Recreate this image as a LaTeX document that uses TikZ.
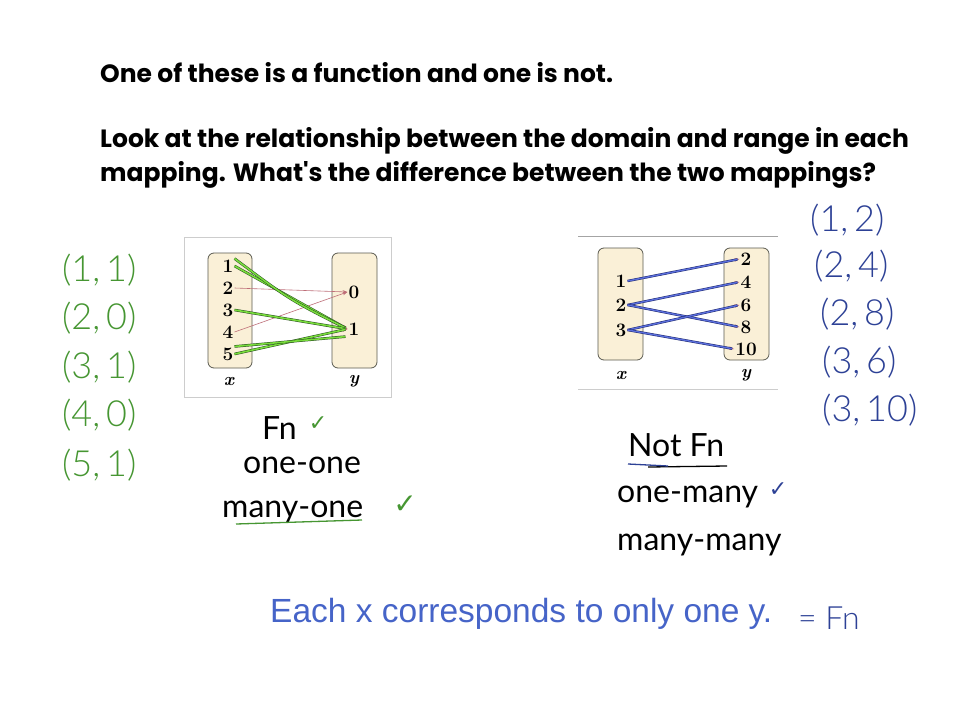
\documentclass[tikz,border=0pt]{standalone}
\usepackage{fontspec}
\usetikzlibrary{arrows.meta}
\newfontfamily\hand{Poppins}
\newfontfamily\handr{Lato}
\newfontfamily\handl{Lato Light}
\newfontfamily\arial{Liberation Sans}
\newfontfamily\djv{DejaVu Sans}
\definecolor{hgreen}{RGB}{70,150,50}
\definecolor{hblue}{RGB}{45,65,150}
\definecolor{tblue}{RGB}{70,100,200}
\definecolor{boxfill}{RGB}{250,240,215}
\definecolor{boxdraw}{RGB}{90,90,80}
\definecolor{framec}{RGB}{205,205,205}
\definecolor{arr}{RGB}{190,110,120}
\definecolor{glite}{RGB}{120,220,60}
\definecolor{gdark}{RGB}{40,80,30}
\definecolor{blite}{RGB}{90,110,220}
\definecolor{bdark}{RGB}{30,40,110}
\begin{document}
\begin{tikzpicture}[x=1pt,y=-1pt,
  title/.style={anchor=base west, inner sep=0pt, font=\hand\bfseries\fontsize{25}{28}\selectfont},
  setbox/.style={draw=boxdraw, fill=boxfill, rounded corners=6pt, line width=0.8pt},
  num/.style={font=\bfseries\fontsize{19}{20}\selectfont, inner sep=1pt},
  axl/.style={font=\bfseries\itshape\fontsize{18}{19}\selectfont, inner sep=1pt},
  map/.style={arr, line width=0.6pt, -{Stealth[length=5pt,width=3.5pt]}},
  ghl/.style={draw=gdark, double=glite, double distance=1.6pt, line width=0.5pt, shorten >=2pt},
  bhl/.style={draw=bdark, double=blite, double distance=1.4pt, line width=0.5pt, shorten >=2pt},
  gpair/.style={text=hgreen, anchor=west, inner sep=0pt, font=\handl\fontsize{36}{38}\selectfont},
  bpair/.style={text=hblue, anchor=west, inner sep=0pt, font=\handl\fontsize{36}{38}\selectfont},
  hw/.style={anchor=west, inner sep=0pt, font=\handr\fontsize{32}{34}\selectfont},
  chk/.style={inner sep=0pt, font=\djv\fontsize{22}{24}\selectfont}
]
\useasboundingbox (0,0) rectangle (960,720);
\fill[white] (0,0) rectangle (960,720);

% title text
\node[title] (t1) at (100,82) {One of these is a function and one is not.};
\node[title] (t2) at (100,147) {Look at the relationship between the domain and range in each};
\node[title] (t3) at (100,181) {mapping. What's the difference between the two mappings?};

% ---------- left mapping ----------
\draw[framec, line width=1pt] (184,237) rectangle (391,397);
\draw[setbox] (208,253) rectangle (252,368);
\draw[setbox] (332,253) rectangle (377,368);
\node[num] (a1) at (228,266) {1};
\node[num] (a2) at (228,288) {2};
\node[num] (a3) at (228,310) {3};
\node[num] (a4) at (228,332) {4};
\node[num] (a5) at (228,354) {5};
\node[num] (b0) at (354,292) {0};
\node[num] (b1) at (354,329) {1};
\node[axl] (ax) at (229,381) {x};
\node[axl] (ay) at (354,381) {y};
\draw[map] (a2.east) -- (b0.west);
\draw[map] (a4.east) -- (b0.west);
\draw[map] (a1.east) -- (b1.west);
\draw[map] (a3.east) -- (b1.west);
\draw[map] (a5.east) -- (b1.west);
\draw[ghl] (a1.east) -- (b1.west);
\draw[ghl] (a1.north east) .. controls (290,300) .. (b1.west);
\draw[ghl] (a3.east) -- (b1.west);
\draw[ghl] (a5.east) -- (b1.west);
\draw[ghl] (a5.north east) -- (b1.south west);

% ---------- right mapping ----------
\draw[framec!80!black, line width=1pt] (578,236) -- (778,236);
\draw[framec, line width=1pt] (578,389) -- (778,389);
\draw[setbox] (598,248) rectangle (643,360);
\draw[setbox] (724,248) rectangle (769,360);
\node[num] (c1) at (621,281) {1};
\node[num] (c2) at (621,305) {2};
\node[num] (c3) at (621,330) {3};
\node[num] (d2) at (746,259) {2};
\node[num] (d4) at (746,282) {4};
\node[num] (d6) at (746,305) {6};
\node[num] (d8) at (746,327) {8};
\node[num] (d10) at (746,349) {10};
\node[axl] (cx) at (621,375) {x};
\node[axl] (cy) at (746,375) {y};
\draw[map] (c1.east) -- (d2.west);
\draw[map] (c2.east) -- (d4.west);
\draw[map] (c2.east) -- (d8.west);
\draw[map] (c3.east) -- (d6.west);
\draw[map] (c3.east) -- (d10.west);
\draw[bhl] (c1.east) -- (d2.west);
\draw[bhl] (c2.east) -- (d4.west);
\draw[bhl] (c2.east) -- (d8.west);
\draw[bhl] (c3.east) -- (d6.west);
\draw[bhl] (c3.east) -- (d10.west);

% ---------- green ordered pairs ----------
\node[gpair] (g1) at (62,270) {(1,\,1)};
\node[gpair] (g2) at (62,318) {(2,\,0)};
\node[gpair] (g3) at (62,367) {(3,\,1)};
\node[gpair] (g4) at (62,415) {(4,\,0)};
\node[gpair] (g5) at (62,465) {(5,\,1)};

% ---------- blue ordered pairs ----------
\node[bpair] (p1) at (810,220) {(1,\,2)};
\node[bpair] (p2) at (814,266) {(2,\,4)};
\node[bpair] (p3) at (820,314) {(2,\,8)};
\node[bpair] (p4) at (822,362) {(3,\,6)};
\node[bpair] (p5) at (822,410) {(3,\,10)};

% ---------- left notes ----------
\node[hw] (fn) at (262,428) {Fn};
\node[chk, text=hgreen] (fnc) at (318,424) {✓};
\node[hw] (oo) at (243,465) {one-one};
\node[hw] (mo) at (222,512) {many-one};
\node[chk, text=hgreen, font=\djv\fontsize{28}{30}\selectfont] (moc) at (405,505) {✓};
\coordinate (u1) at (236,524);
\coordinate (u2) at (362,520);
\draw[hgreen, line width=1.3pt] (u1) -- (u2);

% ---------- right notes ----------
\node[hw] (nf) at (628,445) {Not Fn};
\coordinate (v1) at (648,467);
\coordinate (v2) at (727,466);
\draw[black, line width=1.3pt] (v1) -- (v2);
\coordinate (w1) at (628,464);
\coordinate (w2) at (668,466);
\draw[hblue, line width=1.3pt] (w1) -- (w2);
\node[hw] (om) at (617,497) {one-many};
\node[chk, text=hblue] (omc) at (778,490) {✓};
\node[hw] (mm) at (617,545) {many-many};

% ---------- bottom statement ----------
\node[anchor=base west, inner sep=0pt, text=tblue, font=\arial\fontsize{33.5}{36}\selectfont] (st) at (270,622) {Each x corresponds to only one y.};
\node[bpair, font=\handl\fontsize{32}{34}\selectfont] (eq) at (798,618) {= Fn};
\end{tikzpicture}
\end{document}
